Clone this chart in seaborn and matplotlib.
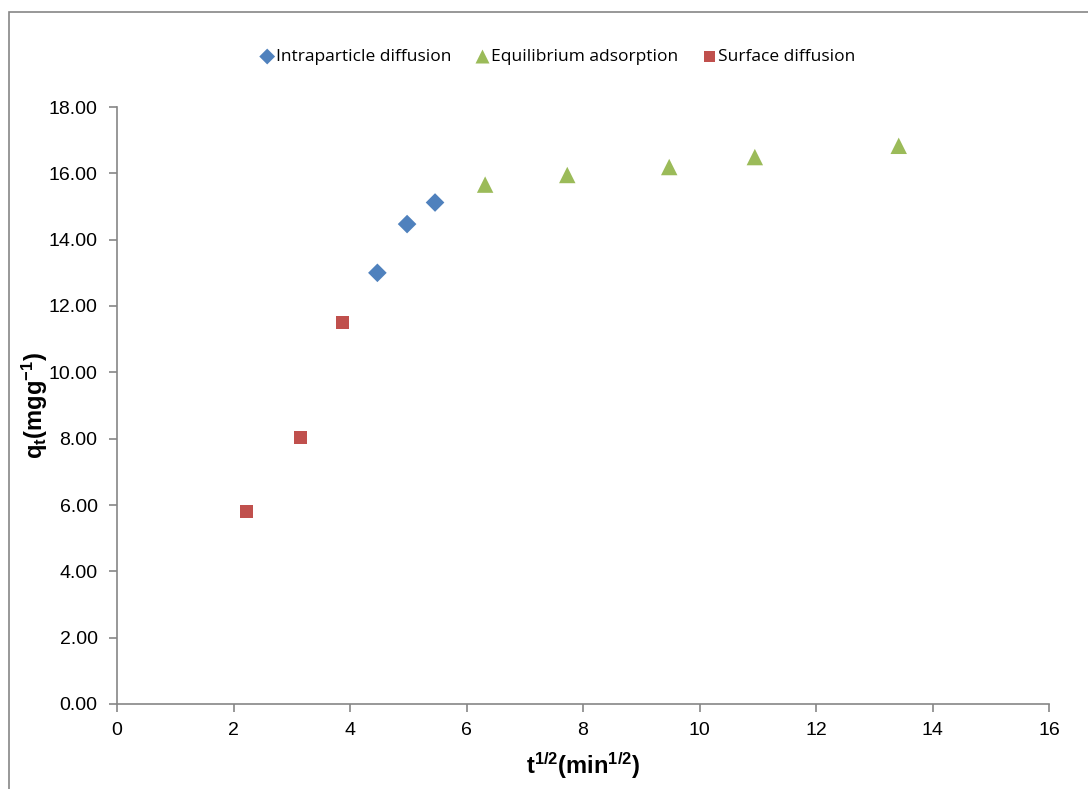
import matplotlib
matplotlib.use("Agg")
import matplotlib.pyplot as plt
import seaborn as sns
import pandas as pd
from matplotlib.patches import Rectangle

sns.set_theme(style="white")
plt.rcParams['font.family'] = ['Liberation Sans', 'DejaVu Sans']
plt.rcParams['mathtext.fontset'] = 'custom'
plt.rcParams['mathtext.rm'] = 'Liberation Sans'
plt.rcParams['mathtext.it'] = 'Liberation Sans'
plt.rcParams['mathtext.bf'] = 'Liberation Sans:bold'

intra_x = [4.47, 4.98, 5.46]
intra_y = [13.00, 14.47, 15.12]
equil_x = [6.32, 7.73, 9.48, 10.95, 13.42]
equil_y = [15.66, 15.95, 16.19, 16.49, 16.83]
surf_x = [2.22, 3.15, 3.87]
surf_y = [5.80, 8.03, 11.50]

names = ["Intraparticle diffusion", "Equilibrium adsorption", "Surface diffusion"]
colors = {"Intraparticle diffusion": "#4F81BD",
          "Equilibrium adsorption": "#9BBB59",
          "Surface diffusion": "#C0504D"}
markers = {"Intraparticle diffusion": "D",
           "Equilibrium adsorption": "^",
           "Surface diffusion": "s"}
sizes = {"Intraparticle diffusion": 90,
         "Equilibrium adsorption": 140,
         "Surface diffusion": 80}

df = pd.concat([
    pd.DataFrame({"x": intra_x, "y": intra_y, "series": names[0]}),
    pd.DataFrame({"x": equil_x, "y": equil_y, "series": names[1]}),
    pd.DataFrame({"x": surf_x, "y": surf_y, "series": names[2]}),
])

fig = plt.figure(figsize=(10.88, 7.89), dpi=100)
ax = fig.add_axes([117/1088, 1-704/789, (1049-117)/1088, (704-107)/789])

for n in names:
    sub = df[df.series == n]
    sns.scatterplot(data=sub, x="x", y="y", ax=ax, color=colors[n],
                    marker=markers[n], s=sizes[n], edgecolor="none",
                    label=n, zorder=3, clip_on=False)

ax.set_xlim(0, 16)
ax.set_ylim(0, 18)
ax.set_xticks(range(0, 17, 2))
ax.set_yticks([i * 2 for i in range(10)])
ax.set_yticklabels([f"{i*2:.2f}" for i in range(10)])
ax.tick_params(axis='both', which='major', direction='out', length=6, width=1.2,
               color='#868686', labelsize=14, labelcolor='black',
               bottom=True, left=True)
ax.tick_params(axis='y', pad=8)
ax.tick_params(axis='x', pad=7)
for s in ["top", "right"]:
    ax.spines[s].set_visible(False)
for s in ["left", "bottom"]:
    ax.spines[s].set_color('#868686')
    ax.spines[s].set_linewidth(1.2)
ax.grid(False)

ax.set_xlabel(r"$\mathbf{t^{1/2}(min^{1/2})}$", fontsize=17, labelpad=8, color='black')
ax.set_ylabel(r"$\mathbf{q_t(mgg^{-1})}$", fontsize=17, labelpad=-1, color='black')

leg = ax.legend(loc='center', bbox_to_anchor=(557/1088, 1-57/789),
                bbox_transform=fig.transFigure, ncol=3, frameon=False,
                prop={'family': 'Open Sans', 'size': 12.5}, handletextpad=0.0,
                columnspacing=1.3, markerscale=0.85, handlelength=1.0)
for t in leg.get_texts():
    t.set_color('black')

fig.patches.append(Rectangle((9/1088, -0.05), 1.2, 1 - 12/789 + 0.05,
                             transform=fig.transFigure, fill=False,
                             edgecolor='#868686', linewidth=1.2))

fig.savefig("out.png", dpi=100, facecolor='white')
